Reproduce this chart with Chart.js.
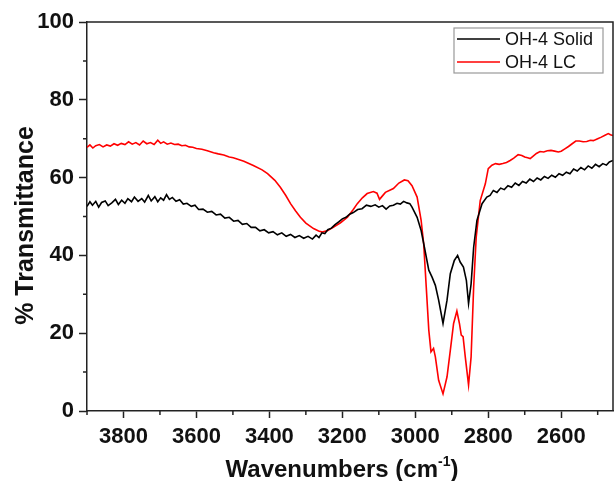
<!DOCTYPE html>
<html>
<head>
<meta charset="utf-8">
<script src="https://cdn.jsdelivr.net/npm/chart.js@4"></script>
<style>
  html, body { margin: 0; padding: 0; background: #fff; }
  canvas { display: block; }
</style>
</head>
<body>
<canvas id="ftirChart" width="614" height="481"></canvas>
<script>
// wavenumbers (cm-1) and % transmittance
const solidWn = [3900, 3892, 3885, 3876, 3868, 3860, 3850, 3842, 3832, 3822,
  3814, 3805, 3796, 3788, 3778, 3770, 3760, 3750, 3742, 3732,
  3724, 3714, 3706, 3698, 3690, 3682, 3674, 3666, 3656, 3646,
  3636, 3626, 3614, 3604, 3594, 3582, 3570, 3558, 3546, 3534,
  3522, 3510, 3498, 3486, 3474, 3462, 3450, 3438, 3426, 3414,
  3402, 3390, 3378, 3366, 3354, 3342, 3330, 3318, 3306, 3294,
  3282, 3272, 3264, 3256, 3248, 3240, 3230, 3220, 3210, 3200,
  3190, 3180, 3170, 3158, 3146, 3134, 3122, 3110, 3100, 3090,
  3080, 3070, 3060, 3050, 3041, 3032, 3023, 3015, 3009, 2995,
  2984, 2975, 2963, 2954, 2945, 2936, 2924, 2913, 2904, 2893,
  2884, 2877, 2868, 2860, 2854, 2847, 2840, 2831, 2817, 2804,
  2795, 2786, 2776, 2766, 2756, 2746, 2736, 2726, 2716, 2706,
  2696, 2686, 2676, 2666, 2656, 2646, 2636, 2626, 2616, 2606,
  2596, 2586, 2576, 2566, 2556, 2546, 2536, 2526, 2516, 2506,
  2496, 2486, 2476, 2468, 2458];
const solidT = [52.6, 53.8, 52.9, 53.9, 52.4, 53.6, 54.0, 52.8, 53.5, 54.4,
  53.1, 54.2, 53.4, 54.6, 53.8, 55.0, 53.9, 54.6, 53.7, 55.4,
  54.0, 55.1, 53.8, 54.8, 54.2, 55.6, 54.4, 54.9, 53.9, 54.3,
  53.2, 53.4, 52.6, 52.9, 51.8, 51.9, 51.1, 51.3, 50.4, 50.6,
  49.6, 49.8, 48.8, 49.0, 48.0, 48.2, 47.2, 47.2, 46.3, 46.6,
  45.8, 46.1, 45.3, 45.8, 44.9, 45.4, 44.6, 45.1, 44.4, 44.9,
  44.2, 45.2, 44.6, 45.8, 45.6, 46.6, 47.0, 47.9, 48.6, 49.4,
  49.8, 50.6, 51.0, 51.8, 52.0, 52.9, 52.6, 53.0, 52.4, 52.8,
  51.9, 52.7, 52.9, 53.4, 53.2, 53.9, 53.5, 53.3, 52.4, 49.8,
  46.4, 42.1, 36.2, 34.4, 32.3, 28.5, 22.5, 28.5, 35.3, 38.7,
  40.0, 38.3, 37.0, 33.6, 27.6, 32.7, 42.1, 49.0, 53.3, 55.0,
  55.4, 56.7, 56.2, 57.3, 56.9, 57.9, 57.5, 58.6, 58.0, 59.0,
  58.6, 59.6, 59.0, 59.9, 59.4, 60.3, 59.8, 60.6, 60.1, 61.0,
  60.6, 61.4, 61.0, 62.2, 61.7, 62.6, 62.0, 63.0, 62.4, 63.4,
  62.8, 63.6, 63.2, 64.0, 64.4];

const lcWn = [3900, 3892, 3884, 3876, 3866, 3856, 3846, 3836, 3826, 3816,
  3806, 3796, 3786, 3776, 3766, 3756, 3746, 3736, 3726, 3716,
  3706, 3698, 3690, 3680, 3670, 3660, 3650, 3640, 3630, 3620,
  3610, 3600, 3585, 3570, 3553, 3540, 3525, 3510, 3499, 3470,
  3444, 3420, 3405, 3385, 3370, 3355, 3342, 3328, 3315, 3300,
  3279, 3265, 3255, 3240, 3225, 3205, 3186, 3170, 3159, 3145,
  3132, 3115, 3105, 3098, 3090, 3082, 3060, 3045, 3030, 3020,
  3009, 2995, 2984, 2977, 2970, 2963, 2957, 2950, 2945, 2936,
  2924, 2913, 2904, 2895, 2886, 2879, 2874, 2869, 2863, 2854,
  2847, 2840, 2833, 2822, 2808, 2800, 2790, 2780, 2770, 2760,
  2750, 2740, 2730, 2718, 2708, 2700, 2692, 2685, 2676, 2668,
  2658, 2648, 2638, 2628, 2618, 2608, 2600, 2590, 2580, 2570,
  2560, 2550, 2540, 2530, 2520, 2512, 2500, 2490, 2480, 2471,
  2465, 2458];
const lcT = [67.8, 68.4, 67.6, 68.2, 68.5, 67.9, 68.4, 68.1, 68.7, 68.3,
  68.8, 68.5, 69.2, 68.6, 69.0, 68.4, 69.4, 68.7, 69.0, 68.5,
  69.6, 68.8, 69.2, 68.6, 68.9, 68.5, 68.6, 68.2, 68.3, 67.9,
  67.8, 67.5, 67.3, 66.9, 66.4, 66.1, 65.8, 65.3, 65.1, 64.2,
  63.1, 62.0, 61.0, 59.3, 57.5, 55.4, 53.3, 51.4, 49.8, 48.3,
  46.9, 46.3, 46.0, 46.4, 47.2, 48.4, 49.8, 51.8, 53.3, 54.8,
  55.9, 56.4, 56.0, 54.4, 55.3, 56.2, 57.2, 58.6, 59.4, 59.2,
  57.9, 55.0, 49.0, 43.0, 31.9, 20.8, 15.2, 16.1, 13.9, 7.9,
  4.4, 8.8, 15.6, 22.5, 25.7, 22.5, 19.5, 19.1, 13.9, 6.7,
  13.9, 31.9, 44.7, 54.1, 58.4, 62.3, 63.2, 63.6, 63.4, 63.6,
  63.9, 64.4, 65.0, 65.9, 65.7, 65.3, 65.1, 64.9, 65.6, 66.2,
  66.7, 66.6, 66.9, 67.0, 66.8, 66.6, 66.8, 67.4, 68.0, 68.7,
  69.4, 69.4, 69.2, 69.3, 69.6, 69.5, 70.0, 70.4, 70.9, 71.3,
  71.0, 70.8];

const seriesNames = ['OH-4 Solid', 'OH-4 LC'];
const seriesColors = ['#000000', '#ff0000'];
const xTitle = ['Wavenumbers (cm', '-1', ')'];
const yTitle = '% Transmittance';

const FONT = "'Liberation Sans', Arial, sans-serif";
const toPoints = (xs, ys) => xs.map((x, i) => ({ x: x, y: ys[i] }));

// frame on top/right, short minor ticks, axis titles, legend box
const frameAndMinor = {
  id: 'frameAndMinor',
  afterDraw(chart) {
    const c = chart.ctx;
    const a = chart.chartArea;
    c.save();
    c.strokeStyle = '#222';
    c.lineWidth = 1.5;
    c.beginPath();
    c.moveTo(a.left, a.top);
    c.lineTo(a.right, a.top);
    c.lineTo(a.right, a.bottom);
    c.stroke();

    const xs = chart.scales.x, ys = chart.scales.y;
    c.beginPath();
    xs.ticks.forEach(t => {
      if (t.value % 200 !== 0) {
        const p = xs.getPixelForValue(t.value);
        c.moveTo(p, a.bottom);
        c.lineTo(p, a.bottom + 4);
      }
    });
    ys.ticks.forEach(t => {
      if (t.value % 20 !== 0) {
        const p = ys.getPixelForValue(t.value);
        c.moveTo(a.left, p);
        c.lineTo(a.left - 4, p);
      }
    });
    c.stroke();

    // x title with superscript
    c.fillStyle = '#111';
    c.textBaseline = 'alphabetic';
    const big = 'bold 24px ' + FONT, small = 'bold 14px ' + FONT;
    c.font = big;
    const w1 = c.measureText(xTitle[0]).width;
    const w3 = c.measureText(xTitle[2]).width;
    c.font = small;
    const w2 = c.measureText(xTitle[1]).width;
    let x = (a.left + a.right) / 2 - (w1 + w2 + w3) / 2 - 8;
    const yBase = 477;
    c.font = big;
    c.textAlign = 'left';
    c.fillText(xTitle[0], x, yBase);
    x += w1;
    c.font = small;
    c.fillText(xTitle[1], x, yBase - 11);
    x += w2;
    c.font = big;
    c.fillText(xTitle[2], x, yBase);

    // y title, rotated
    c.save();
    c.translate(33, (a.top + a.bottom) / 2 + 9);
    c.rotate(-Math.PI / 2);
    c.font = 'bold 25px ' + FONT;
    c.textAlign = 'center';
    c.textBaseline = 'alphabetic';
    c.fillText(yTitle, 0, 0);
    c.restore();

    // legend box
    const bw = 149, bh = 45;
    const bx = a.right - 10 - bw, by = a.top + 6;
    c.fillStyle = '#fff';
    c.fillRect(bx, by, bw, bh);
    c.strokeStyle = '#999';
    c.lineWidth = 1.2;
    c.strokeRect(bx, by, bw, bh);
    c.font = '18px ' + FONT;
    c.textAlign = 'left';
    c.textBaseline = 'middle';
    chart.data.datasets.forEach((ds, i) => {
      const ly = by + 11 + i * 23;
      c.strokeStyle = ds.borderColor;
      c.lineWidth = 1.5;
      c.beginPath();
      c.moveTo(bx + 3, ly);
      c.lineTo(bx + 46, ly);
      c.stroke();
      c.fillStyle = '#111';
      c.fillText(ds.label, bx + 51, ly + 1);
    });
    c.restore();
  }
};

new Chart(document.getElementById('ftirChart'), {
  type: 'line',
  data: {
    datasets: [
      { label: seriesNames[0], data: toPoints(solidWn, solidT), borderColor: seriesColors[0], borderWidth: 1.6, pointRadius: 0, tension: 0 },
      { label: seriesNames[1], data: toPoints(lcWn, lcT), borderColor: seriesColors[1], borderWidth: 1.6, pointRadius: 0, tension: 0 }
    ]
  },
  options: {
    responsive: false,
    animation: false,
    layout: { padding: { top: 22, right: 1, left: 0, bottom: 0 } },
    plugins: { legend: { display: false }, tooltip: { enabled: false } },
    scales: {
      x: {
        type: 'linear',
        reverse: true,
        min: 2458,
        max: 3900,
        afterFit: s => { s.height = 70; },
        border: { display: true, color: '#222', width: 1.5 },
        grid: {
          drawOnChartArea: false,
          tickLength: 7,
          tickWidth: 1.5,
          tickColor: ctx => (ctx.tick && ctx.tick.value % 200 === 0) ? '#222' : 'rgba(0,0,0,0)'
        },
        ticks: {
          stepSize: 100,
          includeBounds: false,
          autoSkip: false,
          maxRotation: 0,
          padding: 6,
          color: '#111',
          font: { family: FONT, size: 22, weight: 'bold' },
          callback: v => (v % 200 === 0 ? String(v) : '')
        }
      },
      y: {
        min: 0,
        max: 100,
        afterFit: s => { s.width = 87; },
        border: { display: true, color: '#222', width: 1.5 },
        grid: {
          drawOnChartArea: false,
          tickLength: 8,
          tickWidth: 1.5,
          tickColor: ctx => (ctx.tick && ctx.tick.value % 20 === 0) ? '#222' : 'rgba(0,0,0,0)'
        },
        ticks: {
          stepSize: 10,
          autoSkip: false,
          padding: 5,
          color: '#111',
          font: { family: FONT, size: 22, weight: 'bold' },
          callback: v => (v % 20 === 0 ? String(v) : '')
        }
      }
    }
  },
  plugins: [frameAndMinor]
});
</script>
</body>
</html>
